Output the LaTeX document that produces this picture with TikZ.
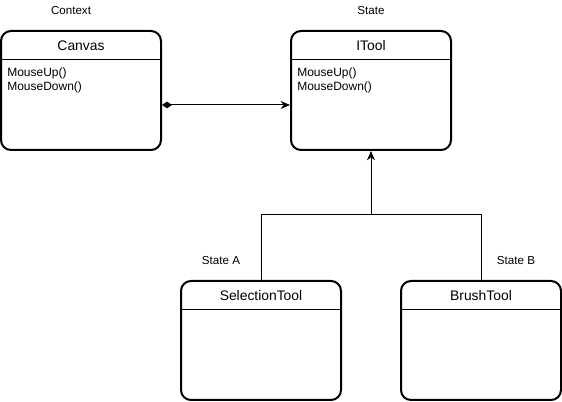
\documentclass[tikz,border=0pt]{standalone}
\usepackage{fontspec}
\setmainfont{Liberation Sans}
\usetikzlibrary{arrows.meta,calc}
\begin{document}
\begin{tikzpicture}[x=0.75pt,y=-0.75pt,
  classbox/.style={draw, line width=1.5pt, rounded corners=7.5pt, minimum width=120pt, minimum height=89.25pt, inner sep=0pt},
  sepline/.style={line width=1pt},
  titletext/.style={font=\fontsize{10.4pt}{12pt}\selectfont, inner sep=0pt},
  methodtext/.style={font=\fontsize{9pt}{9.8pt}\selectfont, align=left, inner sep=0pt, anchor=north west},
  labeltext/.style={font=\fontsize{8.7pt}{10pt}\selectfont, inner sep=0pt},
  conn/.style={line width=0.75pt}
]
\useasboundingbox (0,0) rectangle (562,402);
% boxes
\node[classbox] (canvas) at (81,90.5) {};
\node[classbox] (itool) at (371,90.5) {};
\node[classbox] (sel) at (261,340.5) {};
\node[classbox] (brush) at (481,340.5) {};
% separators
\foreach \b in {canvas,itool,sel,brush}{
  \draw[sepline] ($(\b.north west)+(0,29.5)$) -- ($(\b.north east)+(0,29.5)$);
}
% titles
\node[titletext] (canvast) at (81,46) {Canvas};
\node[titletext] (itoolt) at (371,46) {ITool};
\node[titletext] (selt) at (261,296) {SelectionTool};
\node[titletext] (brusht) at (481,296) {BrushTool};
% methods
\node[methodtext] (canvasm) at (7,68) {MouseUp()\\MouseDown()};
\node[methodtext] (itoolm) at (297,68) {MouseUp()\\MouseDown()};
% labels
\node[labeltext] (lctx) at (71,11) {Context};
\node[labeltext] (lstate) at (371,11) {State};
\node[labeltext] (lsa) at (221,261) {State A};
\node[labeltext] (lsb) at (516,261) {State B};
% connectors
\draw[conn, {Diamond[length=7.5pt,width=5pt]}-{Stealth[length=7pt,width=6pt]}]
  ($(canvas.east)+(0,14.5)$) -- ($(itool.west)+(0,14.5)$);
\coordinate (junc) at (371,215);
\draw[conn] (sel.north) |- (junc);
\draw[conn] (brush.north) |- (junc);
\draw[conn, -{Stealth[length=7pt,width=6pt]}] (junc) -- (itool.south);
\end{tikzpicture}
\end{document}
